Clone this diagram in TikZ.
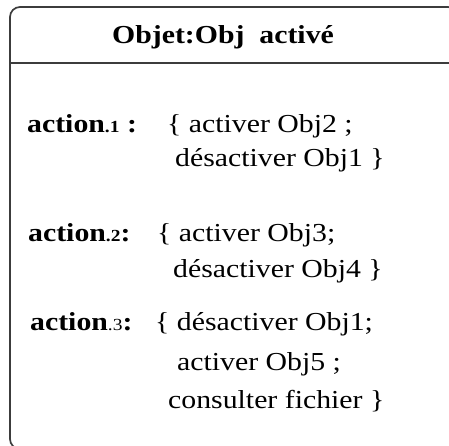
\documentclass[tikz,border=0pt]{standalone}
\usepackage{fontspec}
\setmainfont{Liberation Serif}[FakeStretch=1.15]
\usetikzlibrary{positioning}
\definecolor{framegray}{RGB}{60,60,60}
\tikzset{
  frameline/.style={draw=framegray, line width=1.7bp},
  titletxt/.style={anchor=base, inner sep=0pt, font=\fontsize{26}{30}\selectfont\bfseries},
  acttxt/.style={anchor=base west, inner sep=0pt, font=\fontsize{26}{30}\selectfont\bfseries},
  bodytxt/.style={anchor=base west, inner sep=0pt, font=\fontsize{26}{30}\selectfont}
}
\newcommand{\actnum}[1]{{\fontsize{17}{20}\selectfont #1}}

\begin{document}
\begin{tikzpicture}[x=1bp,y=-1bp]
  \useasboundingbox (0,0) rectangle (449,446);
  \clip (0,0) rectangle (449,446);
  % frame
  \draw[frameline, rounded corners=10bp] (10,7) rectangle (458,449);
  \coordinate (divl) at (10,63);
  \coordinate (divr) at (458,63);
  \draw[frameline] (divl) -- (divr);
  % header
  \node[titletxt] (hdr) at (223,44) {Objet:Obj\ \ activé};

  % actions
  \node[acttxt] (act1) at (27,133) {action\actnum{.1} :};
  \node[bodytxt] (a1l1) at (167,133) {\{ activer Obj2 ;};
  \node[bodytxt] (a1l2) at (175,167) {désactiver Obj1 \}};

  \node[acttxt] (act2) at (28,241) {action\actnum{.2}:};
  \node[bodytxt] (a2l1) at (157,241) {\{ activer Obj3;};
  \node[bodytxt] (a2l2) at (173,277) {désactiver Obj4 \}};

  \node[acttxt] (act3) at (30,330) {action\actnum{\mdseries.3}:};
  \node[bodytxt] (a3l1) at (155,330) {\{ désactiver Obj1;};
  \node[bodytxt] (a3l2) at (177,370) {activer Obj5 ;};
  \node[bodytxt] (a3l3) at (168,408) {consulter fichier \}};
\end{tikzpicture}
\end{document}
